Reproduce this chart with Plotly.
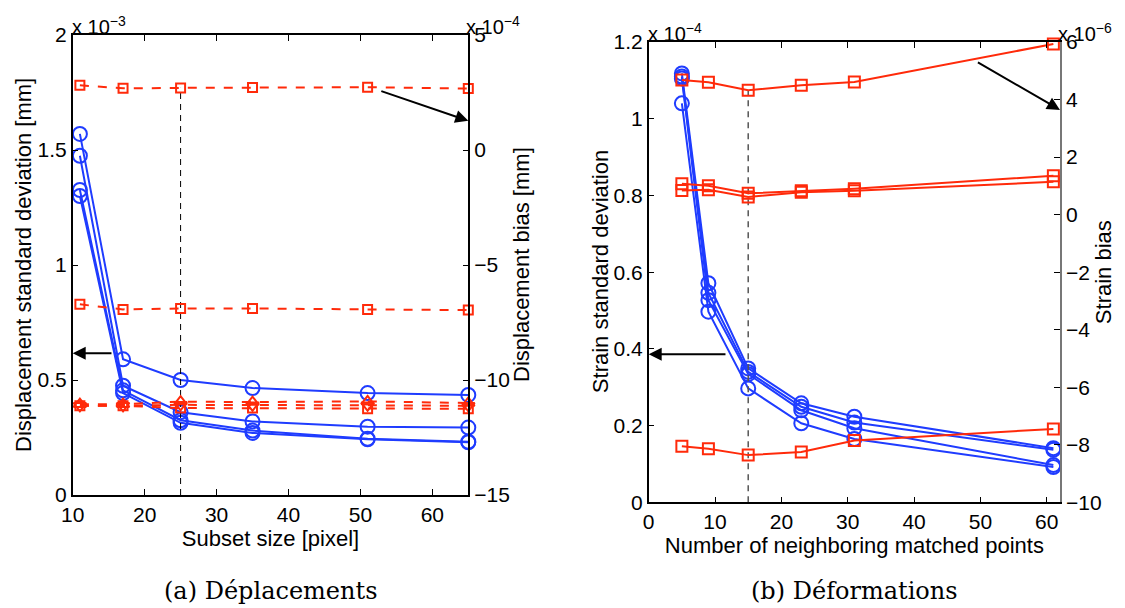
import plotly.graph_objects as go

# ---------------- data: (a) displacements ----------------
subset_size = [11, 17, 25, 35, 51, 65]
disp_std_1 = [1.57, 0.59, 0.50, 0.465, 0.443, 0.435]      # x 1e-3 mm
disp_std_2 = [1.475, 0.475, 0.36, 0.32, 0.297, 0.293]
disp_std_3 = [1.326, 0.455, 0.325, 0.28, 0.245, 0.232]
disp_std_4 = [1.30, 0.443, 0.314, 0.27, 0.242, 0.229]
disp_bias_1 = [2.81, 2.68, 2.70, 2.72, 2.73, 2.67]          # x 1e-4 mm
disp_bias_2 = [-6.71, -6.93, -6.89, -6.89, -6.93, -6.96]
disp_bias_3 = [-11.05, -11.05, -10.94, -10.96, -10.93, -11.0]
disp_bias_4 = [-11.12, -11.12, -11.08, -11.1, -11.1, -11.12]
disp_bias_5 = [-11.12, -11.12, -11.22, -11.22, -11.25, -11.25]
chosen_subset = 25

# ---------------- data: (b) strains ----------------
neighbors = [5, 9, 15, 23, 31, 61]
strain_std_1 = [1.118, 0.571, 0.349, 0.258, 0.223, 0.141]   # x 1e-4
strain_std_2 = [1.110, 0.546, 0.340, 0.249, 0.208, 0.137]
strain_std_3 = [1.105, 0.527, 0.334, 0.240, 0.193, 0.097]
strain_std_4 = [1.040, 0.497, 0.297, 0.206, 0.165, 0.092]
strain_bias_1 = [4.68, 4.60, 4.32, 4.50, 4.61, 5.93]        # x 1e-6
strain_bias_2 = [1.07, 1.00, 0.74, 0.83, 0.90, 1.35]
strain_bias_3 = [0.84, 0.86, 0.61, 0.78, 0.83, 1.14]
strain_bias_4 = [-8.05, -8.14, -8.36, -8.25, -7.85, -7.45]
chosen_neighbors = 15

BLUE = "#1f3cff"
RED = "#ff2a0a"
FONT = "Liberation Sans"
W, H = 1125, 608

fig = go.Figure()

def blue(x, y, xa, ya):
    fig.add_trace(go.Scatter(x=x, y=y, xaxis=xa, yaxis=ya, mode="lines+markers",
                             line=dict(color=BLUE, width=2),
                             marker=dict(symbol="circle-open", size=14, color=BLUE,
                                         line=dict(width=2, color=BLUE)),
                             showlegend=False, cliponaxis=False))

def red(x, y, xa, ya, sym, dash, size=9, width=2):
    fig.add_trace(go.Scatter(x=x, y=y, xaxis=xa, yaxis=ya, mode="lines+markers",
                             line=dict(color=RED, width=width, dash=dash),
                             marker=dict(symbol=sym, size=size, color=RED,
                                         line=dict(width=2, color=RED)),
                             showlegend=False, cliponaxis=False))

# vertical dashed reference lines
fig.add_trace(go.Scatter(x=[chosen_subset, chosen_subset], y=[-15, disp_bias_1[2]],
                         xaxis="x", yaxis="y2", mode="lines",
                         line=dict(color="black", width=1, dash="6px,5px"), showlegend=False))
fig.add_trace(go.Scatter(x=[chosen_neighbors, chosen_neighbors], y=[-10, strain_bias_1[2]],
                         xaxis="x2", yaxis="y4", mode="lines",
                         line=dict(color="#555555", width=1.5, dash="6px,5px"), showlegend=False))

# (a)
for s in [disp_std_1, disp_std_2, disp_std_3, disp_std_4]:
    blue(subset_size, s, "x", "y")
red(subset_size, disp_bias_1, "x", "y2", "square-open", "dash")
red(subset_size, disp_bias_2, "x", "y2", "square-open", "dash")
red(subset_size, disp_bias_3, "x", "y2", "triangle-up-open", "dash", size=11)
red(subset_size, disp_bias_4, "x", "y2", "triangle-down-open", "dash", size=11)
red(subset_size, disp_bias_5, "x", "y2", "square-open", "dash")

# (b)
for s in [strain_std_1, strain_std_2, strain_std_3, strain_std_4]:
    blue(neighbors, s, "x2", "y3")
for s in [strain_bias_1, strain_bias_2, strain_bias_3, strain_bias_4]:
    red(neighbors, s, "x2", "y4", "square-open", "solid", size=11, width=2)

tickfont = dict(family=FONT, size=21, color="black")
titlefont = dict(family=FONT, size=22, color="black")
ax_common = dict(showgrid=False, zeroline=False, ticks="inside", ticklen=6,
                 tickcolor="black", showline=True, linecolor="black", linewidth=1.5,
                 tickfont=tickfont, automargin=False)

LX = [72.7 / W, 468.3 / W]
LY = [1 - 495 / H, 1 - 35 / H]
RX = [648.7 / W, 1060 / W]
RY = [1 - 502.3 / H, 1 - 42 / H]

fig.update_layout(
    width=W, height=H, autosize=False,
    margin=dict(l=0, r=0, t=0, b=0, autoexpand=False),
    paper_bgcolor="white", plot_bgcolor="white",
    font=dict(family=FONT, color="black"),
    xaxis=dict(domain=LX, range=[10, 65], tickvals=[10, 20, 30, 40, 50, 60],
               mirror="ticks", anchor="y",
               title=dict(text="Subset size [pixel]", font=titlefont, standoff=2), **ax_common),
    yaxis=dict(domain=LY, range=[0, 2], tickvals=[0, 0.5, 1, 1.5, 2],
               ticktext=["0", "0.5", "1", "1.5", "2"], anchor="x", **ax_common),
    yaxis2=dict(domain=LY, range=[-15, 5], tickvals=[-15, -10, -5, 0, 5],
                ticktext=["\u221215", "\u221210", "\u22125", "0", "5"],
                overlaying="y", side="right", anchor="x", **ax_common),
    xaxis2=dict(domain=RX, range=[0, 62], tickvals=[0, 10, 20, 30, 40, 50, 60],
                mirror="ticks", anchor="y3",
                title=dict(text="Number of neighboring matched points", font=titlefont, standoff=2),
                **ax_common),
    yaxis3=dict(domain=RY, range=[0, 1.2], tickvals=[0, 0.2, 0.4, 0.6, 0.8, 1.0, 1.2],
                ticktext=["0", "0.2", "0.4", "0.6", "0.8", "1", "1.2"], anchor="x2", **ax_common),
    yaxis4=dict(domain=RY, range=[-10, 6], tickvals=list(range(-10, 7, 2)),
                ticktext=["\u221210", "\u22128", "\u22126", "\u22124", "\u22122", "0", "2", "4", "6"],
                overlaying="y3", side="right", anchor="x2", **ax_common),
)
fig.update_layout(yaxis4=dict(linecolor="#777777"))

ann = []
def arrow(x0, y0, x1, y1, xr, yr):
    ann.append(dict(x=x1, y=y1, ax=x0, ay=y0, xref=xr, yref=yr, axref=xr, ayref=yr,
                    showarrow=True, arrowhead=2, arrowsize=1.3, arrowwidth=2,
                    arrowcolor="black", text=""))
arrow(52.7, 2.58, 65, 1.27, "x", "y2")
arrow(15.6, 0.616, 10, 0.616, "x", "y")
arrow(49.4, 5.32, 62, 3.64, "x2", "y4")
arrow(11.8, 0.386, 0, 0.386, "x2", "y3")

def exp_label(xp, yp, txt):
    ann.append(dict(x=xp, y=yp, xref="paper", yref="paper", xanchor="left", yanchor="bottom",
                    text=txt, showarrow=False, font=dict(family=FONT, size=20, color="black")))
exp_label(LX[0] - 0.002, LY[1] - 0.008, "x 10<sup>\u22123</sup>")
exp_label(LX[1] - 0.004, LY[1] - 0.008, "x 10<sup>\u22124</sup>")
exp_label(RX[0] - 0.002, RY[1] - 0.008, "x 10<sup>\u22124</sup>")
exp_label(RX[1] - 0.004, RY[1] - 0.008, "x 10<sup>\u22126</sup>")

def ytitle(px, dom, txt):
    ann.append(dict(x=px / W, y=(dom[0] + dom[1]) / 2, xref="paper", yref="paper",
                    xanchor="center", yanchor="middle", textangle=-90, text=txt,
                    showarrow=False, font=titlefont))
ytitle(23, LY, "Displacement standard deviation [mm]")
ytitle(521, LY, "Displacement bias [mm]")
ytitle(600, RY, "Strain standard deviation")
ytitle(1103, RY, "Strain bias")

capfont = dict(family="DejaVu Serif", size=24, color="black")
ann.append(dict(x=(LX[0] + LX[1]) / 2, y=1 - 591 / H, xref="paper", yref="paper",
                xanchor="center", yanchor="middle",
                text="(a) Déplacements", showarrow=False, font=capfont))
ann.append(dict(x=(RX[0] + RX[1]) / 2, y=1 - 591 / H, xref="paper", yref="paper",
                xanchor="center", yanchor="middle",
                text="(b) Déformations", showarrow=False, font=capfont))
fig.update_layout(annotations=ann)

fig.write_html("out.html", config={"displayModeBar": False},
               post_script="document.body.style.margin='0';document.body.style.overflow='hidden';")
